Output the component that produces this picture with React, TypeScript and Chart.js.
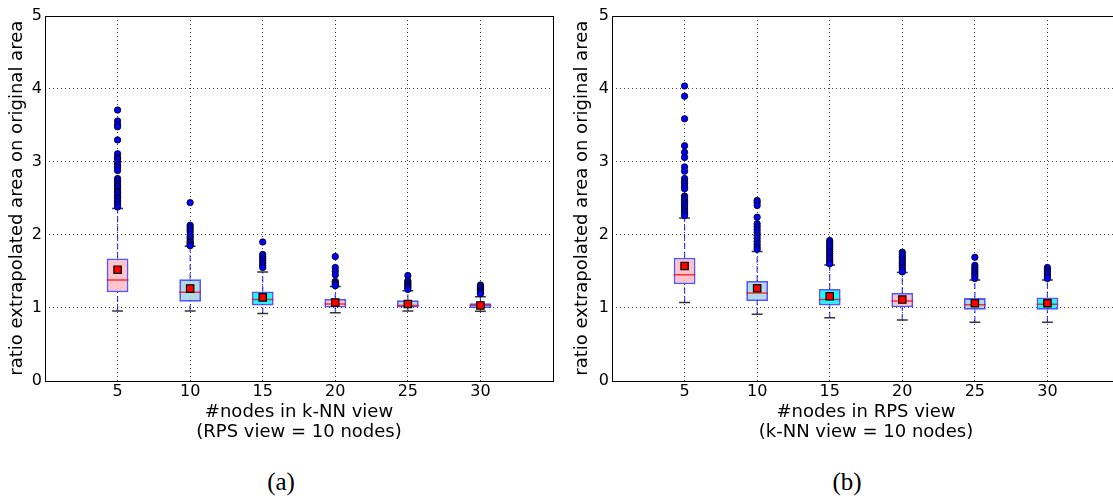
import React, { useEffect, useRef } from "react";
import { Chart, registerables } from "chart.js";

Chart.register(...registerables);

// ---------- data ----------
const positions = [5, 10, 15, 20, 25, 30];
const boxColors = [
  "rgba(255,192,203,0.95)",
  "rgba(173,216,230,0.95)",
  "rgba(0,255,255,0.95)",
  "rgba(255,192,203,0.95)",
  "rgba(173,216,230,0.95)",
  "rgba(0,255,255,0.95)",
];
const yTickValues = [0, 1, 2, 3, 4, 5];
const xTickValues = [5, 10, 15, 20, 25, 30];

// panel (a): #nodes in k-NN view
const q1A = [1.21, 1.08, 1.03, 1.0, 1.0, 0.99];
const medA = [1.38, 1.21, 1.11, 1.05, 1.03, 1.03];
const q3A = [1.675, 1.39, 1.22, 1.12, 1.1, 1.06];
const loA = [0.955, 0.955, 0.92, 0.93, 0.955, 0.95];
const hiA = [2.36, 1.84, 1.49, 1.29, 1.23, 1.15];
const meanA = [1.52, 1.26, 1.14, 1.07, 1.05, 1.03];
const outA5 = [3.71, 3.56, 3.51, 3.48, 3.3, 3.11, 3.06, 3.04, 2.99, 2.95, 2.92, 2.88, 2.77, 2.74, 2.71, 2.68, 2.66, 2.63, 2.6, 2.58, 2.55, 2.52, 2.5, 2.47, 2.44, 2.41, 2.38];
const outA10 = [2.44, 2.13, 2.1, 2.07, 2.04, 2.0, 1.97, 1.94, 1.91, 1.89, 1.87, 1.85];
const outA15 = [1.9, 1.73, 1.7, 1.67, 1.64, 1.61, 1.58, 1.55];
const outA20 = [1.7, 1.55, 1.5, 1.45, 1.36, 1.34, 1.32, 1.3];
const outA25 = [1.44, 1.37, 1.35, 1.33, 1.31, 1.29, 1.27, 1.25];
const outA30 = [1.31, 1.29, 1.27, 1.25, 1.23, 1.21, 1.19];
const outA = [outA5, outA10, outA15, outA20, outA25, outA30];

// panel (b): #nodes in RPS view
const q1B = [1.32, 1.09, 1.03, 1.005, 0.97, 0.97];
const medB = [1.45, 1.2, 1.11, 1.09, 1.04, 1.045];
const q3B = [1.685, 1.365, 1.255, 1.2, 1.13, 1.14];
const loB = [1.07, 0.91, 0.86, 0.83, 0.8, 0.8];
const hiB = [2.23, 1.77, 1.585, 1.48, 1.38, 1.38];
const meanB = [1.57, 1.265, 1.155, 1.11, 1.06, 1.06];
const outB5 = [4.04, 3.9, 3.59, 3.22, 3.13, 3.06, 2.93, 2.87, 2.77, 2.73, 2.7, 2.66, 2.63, 2.53, 2.5, 2.47, 2.44, 2.41, 2.38, 2.35, 2.32, 2.29, 2.26];
const outB10 = [2.47, 2.44, 2.4, 2.24, 2.15, 2.11, 2.07, 2.03, 1.99, 1.95, 1.91, 1.87, 1.83, 1.8];
const outB15 = [1.92, 1.89, 1.86, 1.83, 1.8, 1.77, 1.74, 1.71, 1.68, 1.65, 1.62, 1.6];
const outB20 = [1.76, 1.73, 1.7, 1.67, 1.64, 1.61, 1.58, 1.55, 1.52, 1.49];
const outB25 = [1.69, 1.58, 1.55, 1.52, 1.49, 1.46, 1.43, 1.4];
const outB30 = [1.55, 1.52, 1.49, 1.46, 1.43, 1.4];
const outB = [outB5, outB10, outB15, outB20, outB25, outB30];

const xTitleA = ["#nodes in k-NN view", "(RPS view = 10 nodes)"];
const xTitleB = ["#nodes in RPS view", "(k-NN view = 10 nodes)"];
const yTitle = "ratio extrapolated area on original area";

const BOX_HALF = 0.75;
const CAP_HALF = 0.375;
const FONT = "'DejaVu Sans', sans-serif";

type PanelProps = {
  q1: number[];
  med: number[];
  q3: number[];
  lo: number[];
  hi: number[];
  mean: number[];
  outliers: number[][];
  xTitle: string[];
  left: number;
  yTitlePad: number;
};

const framePlugin = {
  id: "frame",
  afterDraw(chart: any) {
    const { ctx, chartArea } = chart;
    ctx.save();
    ctx.strokeStyle = "#000";
    ctx.lineWidth = 1;
    ctx.strokeRect(
      Math.round(chartArea.left) + 0.5,
      Math.round(chartArea.top) + 0.5,
      Math.round(chartArea.right - chartArea.left),
      Math.round(chartArea.bottom - chartArea.top)
    );
    ctx.restore();
  },
};

function BoxPanel(p: PanelProps) {
  const ref = useRef<HTMLCanvasElement | null>(null);
  useEffect(() => {
    if (!ref.current) return;
    const gapPt = (x: number) => ({ x, y: null as any });
    const whiskers: any[] = [];
    const caps: any[] = [];
    const medians: any[] = [];
    const outPts: any[] = [];
    positions.forEach((x, i) => {
      whiskers.push({ x, y: p.lo[i] }, { x, y: p.q1[i] }, gapPt(x));
      whiskers.push({ x, y: p.q3[i] }, { x, y: p.hi[i] }, gapPt(x));
      caps.push({ x: x - CAP_HALF, y: p.lo[i] }, { x: x + CAP_HALF, y: p.lo[i] }, gapPt(x));
      caps.push({ x: x - CAP_HALF, y: p.hi[i] }, { x: x + CAP_HALF, y: p.hi[i] }, gapPt(x));
      medians.push({ x: x - BOX_HALF, y: p.med[i] }, { x: x + BOX_HALF, y: p.med[i] }, gapPt(x));
      p.outliers[i].forEach((v) => outPts.push({ x, y: v }));
    });

    const chart = new Chart(ref.current, {
      type: "bar",
      data: {
        datasets: [
          {
            type: "line",
            data: whiskers,
            borderColor: "rgba(0,0,255,0.75)",
            borderWidth: 1.2,
            borderDash: [6, 3],
            pointRadius: 0,
            spanGaps: false,
            order: 6,
          } as any,
          {
            type: "line",
            data: caps,
            borderColor: "rgba(20,20,20,0.85)",
            borderWidth: 1.5,
            pointRadius: 0,
            spanGaps: false,
            order: 5,
          } as any,
          {
            type: "bar",
            data: positions.map((x, i) => ({ x, y: [p.q1[i], p.q3[i]] })),
            backgroundColor: boxColors,
            borderColor: "rgba(30,30,255,0.75)",
            borderWidth: 1.8,
            borderSkipped: false,
            categoryPercentage: 1,
            barPercentage: (2 * BOX_HALF) / 5,
            order: 4,
          } as any,
          {
            type: "line",
            data: medians,
            borderColor: "rgba(255,0,0,0.75)",
            borderWidth: 1.5,
            pointRadius: 0,
            spanGaps: false,
            order: 3,
          } as any,
          {
            type: "scatter",
            data: outPts,
            backgroundColor: "#0000ff",
            borderColor: "#000",
            borderWidth: 0.8,
            pointRadius: 3.2,
            order: 2,
          } as any,
          {
            type: "scatter",
            data: positions.map((x, i) => ({ x, y: p.mean[i] })),
            pointStyle: "rect",
            backgroundColor: "#ff0000",
            borderColor: "#000",
            borderWidth: 1.2,
            pointRadius: 5.2,
            order: 1,
          } as any,
        ],
      },
      options: {
        animation: false,
        responsive: false,
        events: [],
        layout: { padding: { left: 0, right: 7, top: 16, bottom: 8 } },
        plugins: { legend: { display: false }, tooltip: { enabled: false } },
        scales: {
          x: {
            type: "linear",
            min: 0,
            max: 35,
            offset: false,
            afterFit: (s: any) => {
              s.height = 61.5;
            },
            afterBuildTicks: (s: any) => {
              s.ticks = [0, ...xTickValues, 35].map((v) => ({ value: v }));
            },
            ticks: {
              autoSkip: false,
              maxRotation: 0,
              padding: 2,
              color: "#000",
              font: { family: FONT, size: 16 },
              callback: (v: any) => (xTickValues.includes(Number(v)) ? String(v) : ""),
            },
            grid: {
              offset: false,
              drawTicks: false,
              lineWidth: 1,
              color: (ctx: any) =>
                ctx.tick && xTickValues.includes(ctx.tick.value) ? "rgba(0,0,0,0.75)" : "rgba(0,0,0,0)",
            },
            border: { display: false, dash: [1, 3] },
            title: {
              display: true,
              text: p.xTitle,
              color: "#000",
              font: { family: FONT, size: 18, lineHeight: 1.1 },
              padding: { top: 0, bottom: 0 },
            },
          },
          y: {
            type: "linear",
            min: 0,
            max: 5,
            afterFit: (s: any) => {
              s.width = 45;
            },
            afterBuildTicks: (s: any) => {
              s.ticks = yTickValues.map((v) => ({ value: v }));
            },
            ticks: {
              padding: 3,
              color: "#000",
              font: { family: FONT, size: 16 },
            },
            grid: {
              drawTicks: false,
              lineWidth: 1,
              color: (ctx: any) =>
                ctx.tick && ctx.tick.value > 0 && ctx.tick.value < 5 ? "rgba(0,0,0,0.75)" : "rgba(0,0,0,0)",
            },
            border: { display: false, dash: [1, 3] },
            title: {
              display: true,
              text: yTitle,
              color: "#000",
              font: { family: FONT, size: 18, lineHeight: 1.1 },
              padding: { top: p.yTitlePad, bottom: 0 },
            },
          },
        },
      } as any,
      plugins: [framePlugin],
    });
    return () => chart.destroy();
  }, []);
  return (
    <canvas
      ref={ref}
      width={560}
      height={450}
      style={{ position: "absolute", left: p.left, top: 0, width: 560, height: 450 }}
    />
  );
}

const captionStyle = (x: number): React.CSSProperties => ({
  position: "absolute",
  left: x,
  top: 481,
  transform: "translate(-50%, -50%)",
  fontFamily: "'Liberation Serif', serif",
  fontSize: 25,
  lineHeight: 1,
  color: "#000",
  whiteSpace: "nowrap",
});

export default function App() {
  return (
    <div
      style={{
        position: "fixed",
        left: 0,
        top: 0,
        width: 1113,
        height: 498,
        overflow: "hidden",
        background: "#fff",
      }}
    >
      <BoxPanel q1={q1A} med={medA} q3={q3A} lo={loA} hi={hiA} mean={meanA} outliers={outA} xTitle={xTitleA} left={0} yTitlePad={7} />
      <BoxPanel q1={q1B} med={medB} q3={q3B} lo={loB} hi={hiB} mean={meanB} outliers={outB} xTitle={xTitleB} left={567} yTitlePad={5} />
      <div style={captionStyle(281)}>(a)</div>
      <div style={captionStyle(847)}>(b)</div>
    </div>
  );
}
